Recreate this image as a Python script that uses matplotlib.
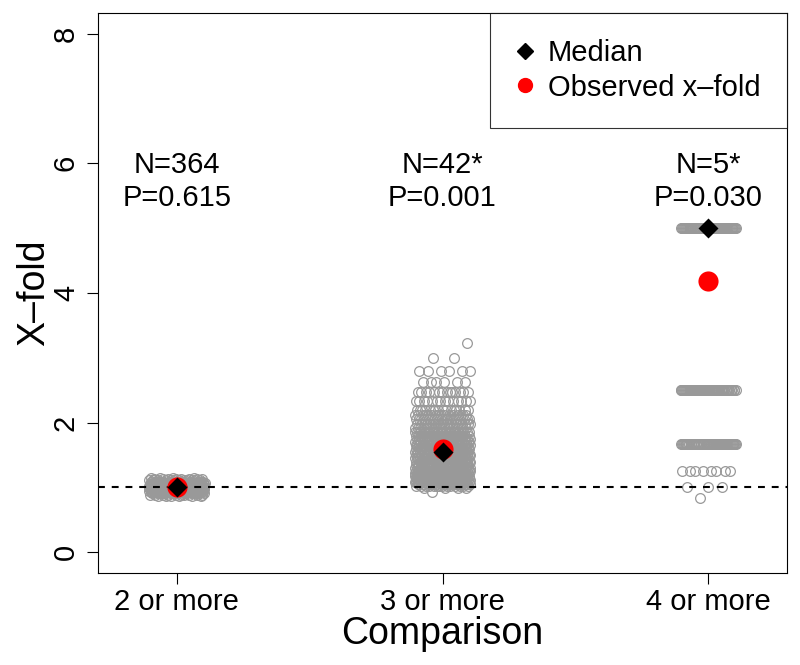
import numpy as np
import matplotlib
matplotlib.use("Agg")
import matplotlib.pyplot as plt
from matplotlib.lines import Line2D

plt.rcParams['font.family'] = ['Liberation Sans', 'DejaVu Sans']

# groups on the x axis
categories = ['2 or more', '3 or more', '4 or more']
n_labels = ['N=364', 'N=42*', 'N=5*']
p_labels = ['P=0.615', 'P=0.001', 'P=0.030']

# x-fold levels seen in each cloud and how many circles sit on each level
levels_1 = [0.87, 0.89, 0.91, 0.93, 0.95, 0.97, 0.99, 1.01, 1.03, 1.05, 1.07, 1.09, 1.11, 1.13, 1.15]
counts_1 = [6, 10, 16, 22, 28, 32, 36, 36, 32, 28, 22, 16, 12, 8, 4]

levels_2 = [0.93, 0.99, 1.02, 1.05, 1.08, 1.11, 1.14, 1.18, 1.22, 1.26, 1.30, 1.35, 1.40,
            1.45, 1.50, 1.55, 1.60, 1.65, 1.70, 1.75, 1.80, 1.86, 1.92, 1.98, 2.05, 2.12,
            2.20, 2.33, 2.47, 2.62, 2.80, 3.00, 3.23]
counts_2 = [1, 4, 14, 20, 24, 26, 26, 28, 28, 28, 28, 28, 28, 28, 28, 28, 28, 26, 26, 24,
            22, 22, 20, 18, 18, 16, 16, 14, 14, 6, 6, 2, 1]

levels_3 = [5.0, 2.5, 1.667, 1.25, 1.0, 0.833]
counts_3 = [60, 60, 60, 8, 3, 1]

medians = [1.0, 1.54, 5.0]
observed = [1.0, 1.6, 4.18]

ref_line = 1.0


def jitter_cloud(pos, levels, counts, amount=0.105):
    # spread circles across the jitter band (golden-ratio steps, no randomness)
    xs, ys = [], []
    k = 0
    for lev, c in zip(levels, counts):
        for j in range(c):
            u = (k * 0.6180339887 + 0.31) % 1.0
            xs.append(pos + (u - 0.5) * 2 * amount)
            ys.append(lev)
            k += 1
    return xs, ys


fig = plt.figure(figsize=(8, 6.65), dpi=100)
ax = fig.add_axes([98/800, 1 - 573/665, (787 - 98)/800, (573 - 13)/665])

grey = '#999999'
clouds = [(levels_1, counts_1), (levels_2, counts_2), (levels_3, counts_3)]
for i, (lv, ct) in enumerate(clouds):
    xs, ys = jitter_cloud(i + 1, lv, ct)
    ax.plot(xs, ys, 'o', ms=7, mfc='none', mec=grey, mew=0.9, zorder=2)

ax.axhline(ref_line, color='black', lw=1.5, ls=(0, (3.3, 3.3)), zorder=3)

pos = np.arange(1, len(categories) + 1)
ax.plot(pos, observed, 'o', ms=14.5, color='red', mec='none', zorder=4)
ax.plot(pos, medians, 'D', ms=10.5, color='black', mec='none', zorder=5)

for i in range(len(categories)):
    ax.text(pos[i], 5.72, n_labels[i] + '\n' + p_labels[i], ha='center', va='center',
            fontsize=21, linespacing=1.2)

ax.set_xlim(0.704, 3.296)
ax.set_ylim(-0.32, 8.32)
ax.set_xticks(pos)
ax.set_xticklabels(categories)
ax.set_yticks([0, 2, 4, 6, 8])
ax.tick_params(axis='both', labelsize=21, length=8, width=0.8, direction='out')
ax.tick_params(axis='x', pad=3)
ax.tick_params(axis='y', pad=5)
for lab in ax.get_yticklabels():
    lab.set_rotation(90)
    lab.set_va('center')
for s in ax.spines.values():
    s.set_linewidth(0.8)

ax.set_xlabel('Comparison', fontsize=27, labelpad=0)
ax.set_ylabel('X\u2013fold', fontsize=27, labelpad=0)

handles = [Line2D([], [], marker='D', ls='none', color='black', ms=8),
           Line2D([], [], marker='o', ls='none', color='red', ms=10)]
leg = ax.legend(handles, ['Median', 'Observed x\u2013fold'], loc='upper right',
                fontsize=21, frameon=True, fancybox=False, edgecolor='black',
                borderaxespad=0, handlelength=0.6, handletextpad=0.5,
                borderpad=0.9, labelspacing=0.22)
leg.get_frame().set_linewidth(0.8)

fig.savefig('out.png', dpi=100)
